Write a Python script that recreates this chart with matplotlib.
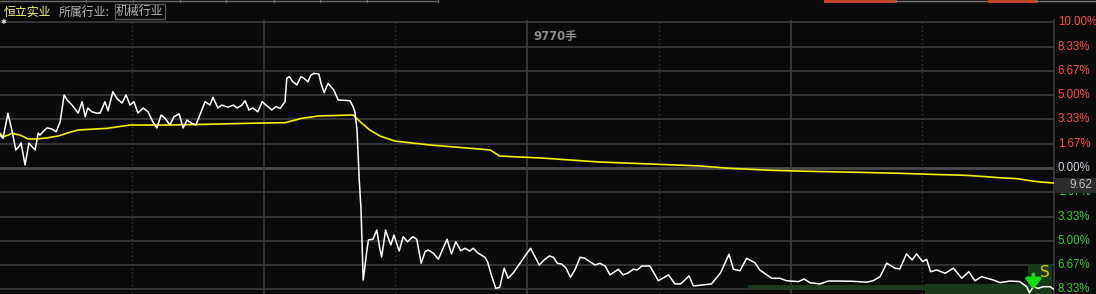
import matplotlib
matplotlib.use("Agg")
import matplotlib.pyplot as plt
from matplotlib.patches import Rectangle

# ---------------- data ----------------
price_t = [0, 0.7, 1.8, 2.7, 3.6, 4.3, 4.8, 5.2, 5.7, 6.1, 6.6, 7.3, 8.0, 8.7, 9.1, 9.8,
           10.7, 11.8, 12.8, 13.7, 14.6, 15.3, 16.4, 17.8, 18.7, 19.4, 20.0, 20.9, 21.9,
           22.8, 23.9, 24.6, 25.7, 26.6, 27.8, 28.7, 29.6, 30.5, 31.4, 32.6, 33.7, 34.8,
           35.7, 36.7, 37.6, 38.7, 39.6, 40.8, 41.7, 42.6, 43.5, 44.6, 45.5, 46.7, 47.8,
           48.5, 49.6, 50.5, 51.9, 53.1, 54.0, 55.1, 55.8, 56.7, 57.6, 58.7, 59.7, 61.0,
           61.9, 62.8, 63.8, 64.9, 65.3, 65.9, 66.7, 67.6, 68.5, 69.2, 70.1, 70.8, 71.5,
           72.6, 73.1, 73.8, 74.7, 76.0, 77.0, 79.7, 80.4, 80.8, 81.3, 81.8, 82.2, 82.4,
           82.6, 82.7, 83.1, 83.5, 83.9, 84.9, 85.8, 86.4, 86.9, 87.3, 87.8, 88.4, 89.0,
           89.7, 90.9, 91.8, 92.8, 94.0, 94.9, 95.9, 96.8, 97.5, 98.7, 99.8, 101.8, 102.8,
           103.8, 104.9, 105.9, 106.9, 107.8, 108.7, 110.4, 111.0, 112.0, 112.9, 113.8,
           114.8, 115.7, 116.9, 120.8, 122.8, 123.9, 125.1, 126.0, 126.9, 127.9, 128.9,
           129.9, 130.9, 132.1, 133.2, 134.3, 135.5, 136.6, 137.8, 138.9, 140.8, 141.9,
           143.1, 144.2, 145.1, 146.1, 148.0, 149.9, 152.2, 153.7, 155.0, 156.9, 157.9,
           162.0, 164.1, 166.0, 167.0, 168.5, 170.0, 171.9, 173.0, 175.7, 177.6, 179.1,
           181.8, 183.1, 184.4, 186.7, 188.6, 191.3, 194.3, 197.3, 198.8, 200.4, 201.9,
           203.8, 204.9, 206.4, 207.7, 208.7, 210.1, 211.0, 211.9, 213.3, 215.2, 217.1,
           219.0, 220.6, 222.0, 223.5, 226.2, 227.7, 230.0, 232.2, 233.8, 234.4, 235.3,
           236.4, 237.5, 239.1, 240.0]
price_pct = [2.26, 2.04, 3.75, 2.61, 1.24, 1.46, 1.72, 1.03, 0.21, 0.89, 1.72, 1.46, 1.24,
             2.40, 2.26, 2.49, 2.75, 2.68, 2.49, 3.18, 5.01, 4.67, 4.32, 3.77, 4.55, 3.52,
             4.12, 3.86, 3.77, 3.77, 4.55, 3.93, 5.24, 4.78, 4.46, 5.01, 4.32, 4.55, 3.77,
             4.12, 3.86, 3.18, 2.75, 3.64, 3.41, 2.95, 3.52, 3.71, 2.75, 3.29, 3.09, 2.95,
             3.64, 4.55, 4.32, 4.85, 4.12, 4.32, 4.17, 4.32, 4.12, 4.32, 4.62, 3.98, 4.12,
             3.86, 4.55, 4.21, 3.98, 4.21, 4.10, 4.55, 6.16, 6.27, 5.92, 5.70, 6.27, 6.16,
             5.92, 6.38, 6.50, 6.45, 5.81, 5.17, 5.81, 5.35, 4.67, 4.62, 4.21, 3.86, 2.61,
             -0.82, -2.81, -4.74, -6.66, -7.69, -6.77, -5.74, -4.94, -4.89, -4.26, -5.40,
             -6.11, -5.28, -4.26, -4.80, -5.28, -4.60, -5.70, -4.72, -5.06, -4.72, -4.89,
             -6.54, -5.74, -5.63, -5.85, -6.27, -4.89, -5.90, -5.06, -5.68, -5.51, -5.70,
             -5.51, -5.81, -6.13, -6.43, -7.46, -8.26, -8.19, -6.88, -7.57, -7.19, -5.51,
             -6.66, -6.31, -6.04, -6.13, -6.54, -6.59, -6.88, -7.50, -7.00, -6.13, -6.20,
             -6.43, -6.66, -6.54, -6.73, -7.34, -6.95, -7.34, -7.19, -6.95, -7.00, -6.73,
             -6.73, -7.74, -7.34, -7.96, -7.96, -7.41, -8.10, -7.96, -7.19, -5.92, -6.95,
             -7.05, -6.20, -6.50, -7.00, -7.57, -7.57, -7.74, -7.80, -7.62, -7.87, -7.96,
             -7.76, -7.76, -7.78, -7.84, -7.74, -7.46, -6.54, -6.88, -6.93, -5.90, -6.31,
             -5.90, -6.43, -6.27, -7.12, -7.00, -7.23, -6.88, -7.57, -7.12, -7.74, -7.46,
             -7.69, -7.87, -7.76, -7.80, -8.15, -8.56, -8.15, -8.26, -8.15, -8.15, -8.33]

avg_t = [0, 0.75, 1.9, 2.7, 4.6, 6.4, 8.4, 11.0, 13.3, 16.3, 17.8, 24.3, 29.6, 38.0, 47.1,
         56.9, 64.9, 68.7, 72.5, 80.4, 82.4, 84.2, 86.5, 89.9, 97.9, 111.6, 113.8, 123.0,
         136.6, 159.4, 166.2, 175.7, 184.4, 195.8, 204.5, 211.3, 219.7, 224.7, 227.7,
         231.5, 233.8, 236.8, 240.0]
avg_pct = [2.38, 2.15, 2.26, 2.38, 2.26, 1.99, 1.99, 2.08, 2.20, 2.49, 2.61, 2.72, 2.95,
           2.95, 3.00, 3.07, 3.11, 3.41, 3.57, 3.64, 3.07, 2.61, 2.20, 1.85, 1.58, 1.24,
           0.82, 0.69, 0.41, 0.14, -0.02, -0.16, -0.23, -0.30, -0.36, -0.43, -0.50, -0.60,
           -0.67, -0.73, -0.84, -0.96, -1.03]

# signal band at the bottom: (start minute, end minute, top pct, bottom pct)
band_start = [170.3, 210.6, 234.1]
band_end = [210.6, 234.1, 239.6]
band_top = [-8.03, -7.99, -6.58]
band_bottom = [-8.30, -8.65, -8.65]

tick_vals = [10.00, 8.33, 6.67, 5.00, 3.33, 1.67, 0.00, -1.67, -3.33, -5.00, -6.67, -8.33]
tick_labels = ["10.00%", "8.33%", "6.67%", "5.00%", "3.33%", "1.67%", "0.00%",
               "1.67%", "3.33%", "5.00%", "6.67%", "8.33%"]
last_price_label = "9.62"
last_price_pct = -1.2
volume_text = "9770手"
stock_name = "恒立实业"
industry_prefix = "所属行业:"
industry_name = "机械行业"
signal_minute = 235.3
signal_text = "S"

# ---------------- drawing ----------------
W, H = 1096, 294
BG = "#0a0a0a"
GRID = "#3c3c3c"
fig = plt.figure(figsize=(W / 100, H / 100), dpi=100, facecolor=BG)
plt.rcParams['font.family'] = ['Noto Sans CJK SC', 'DejaVu Sans']

top_px, bot_px = 20, 294
ax = fig.add_axes([0, 0, 1054 / W, (bot_px - top_px) / H], facecolor=BG)
ax.set_xlim(0, 240)
ax.set_ylim(-8.65, 10.16)
for s in ax.spines.values():
    s.set_visible(False)
ax.set_xticks([])
ax.set_yticks([])

# horizontal grid
for v in tick_vals:
    if v == 0:
        ax.axhline(v, color="#4a4a4a", lw=2.0, zorder=1)
    else:
        ax.axhline(v, color=GRID, lw=1.2, zorder=1)
# vertical grid
for m in [30, 90, 150, 210]:
    ax.axvline(m, color="#3a3a3a", lw=1.0, ls=(0, (1, 2)), zorder=1)
for m in [60, 120, 180]:
    ax.axvline(m, color=GRID, lw=1.2, zorder=1)
ax.axvline(240, color=GRID, lw=1.2, zorder=1, clip_on=False)

# signal band
for s0, s1, t, b in zip(band_start, band_end, band_top, band_bottom):
    ax.fill_between([s0, s1], [t, t], [b, b], color="#1b3a1d", lw=0, zorder=2)

# lines
ax.plot(avg_t, avg_pct, color="#f0f000", lw=1.2, zorder=4)
ax.plot(price_t, price_pct, color="#ffffff", lw=1.1, zorder=5)

# signal arrow and S
ax.annotate("", xy=(signal_minute, -8.35), xytext=(signal_minute, -7.3),
            arrowprops=dict(arrowstyle="-|>,head_width=0.45,head_length=0.6",
                            color="#10e010", lw=2.6, mutation_scale=10,
                            shrinkA=0, shrinkB=0), zorder=6)
ax.text(signal_minute + 2.7, -7.15, signal_text, color="#d8c800", fontsize=11,
        ha="center", va="center", family=["DejaVu Sans"], zorder=6)

# right axis labels
for v, lab in zip(tick_vals, tick_labels):
    if v > 0:
        c = "#ff4c4c"
    elif v == 0:
        c = "#c8d0dc"
    else:
        c = "#30d030"
    ax.text(240.85, v, lab, color=c, fontsize=8.3, ha="left", va="center",
            family=["Liberation Sans"], clip_on=False, zorder=3)

# last price box
px_per_min = 1054 / 240
ax.add_patch(Rectangle((240.05, -1.716), 42 / px_per_min, 1.03, facecolor="#2b2b2b",
                       edgecolor="none", clip_on=False, zorder=7))
ax.text(248.8, last_price_pct, last_price_label, color="#c0c0c0", fontsize=8.5,
        ha="right", va="center", family=["Liberation Sans"], clip_on=False, zorder=8)

# volume text
ax.text(121.5, 9.0, volume_text, color="#8a8a8a", fontsize=8.4, fontweight="bold",
        ha="left", va="center", family=["DejaVu Sans", "Noto Sans CJK SC"], zorder=3)

# header
fig.text(4 / W, 1 - 12 / H, stock_name, color="#f4f47a", fontsize=8.6,
         ha="left", va="center", family=["Noto Sans CJK SC"])
fig.text(59 / W, 1 - 12 / H, industry_prefix, color="#b4b4b4", fontsize=8.6,
         ha="left", va="center", family=["Noto Sans CJK SC"])
fig.text(116 / W, 1 - 11.5 / H, industry_name, color="#b4b4b4", fontsize=8.6,
         ha="left", va="center", family=["Noto Sans CJK SC"],
         bbox=dict(boxstyle="square,pad=0.12", facecolor=BG, edgecolor="#5a5a5a", lw=0.9))
fig.text(1 / W, 1 - 22 / H, "✱", color="#e0e0e0", fontsize=5, ha="left", va="center",
         family=["DejaVu Sans"])

# top tab strip
top = fig.add_axes([0, 1 - 3 / H, 1, 3 / H], facecolor=BG)
top.set_xlim(0, W)
top.set_ylim(0, 3)
top.axis("off")
top.plot([0, 438], [2.2, 2.2], color="#6a6a6a", lw=1.0)
for xs in [86, 133, 180, 226, 274, 320, 367, 438]:
    top.plot([xs, xs], [0, 3], color="#6a6a6a", lw=0.8)
top.plot([825, 895], [2.2, 2.2], color="#d04a2a", lw=2.0)
top.plot([895, 989], [2.2, 2.2], color="#7a7a7a", lw=1.0)
top.plot([989, 1036], [2.2, 2.2], color="#d04a2a", lw=2.0)
top.plot([1036, 1096], [2.2, 2.2], color="#7a7a7a", lw=1.0)

fig.savefig("out.png", dpi=100, facecolor=BG)
